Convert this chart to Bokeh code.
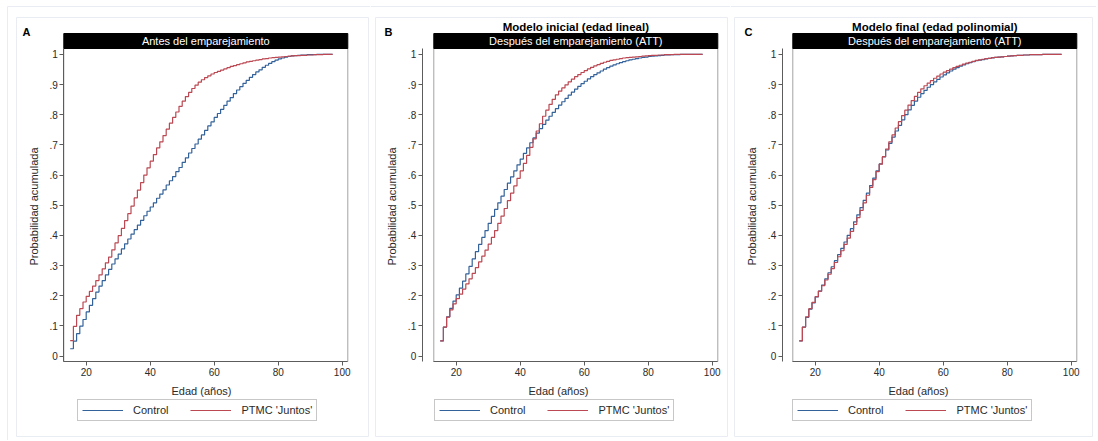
from bokeh.plotting import figure
from bokeh.layouts import row
from bokeh.models import (Range1d, FixedTicker, CustomJSTickFormatter, Label,
                          Legend, LegendItem)
from bokeh.embed import file_html
from bokeh.resources import INLINE

# ---------------- data ----------------
AGES = [15, 16, 17, 18, 19, 20, 21, 22, 23, 24, 25, 26, 27, 28, 29, 30, 31, 32,
        33, 34, 35, 36, 37, 38, 39, 40, 41, 42, 43, 44, 45, 46, 47, 48, 49, 50,
        51, 52, 53, 54, 55, 56, 57, 58, 59, 60, 61, 62, 63, 64, 65, 66, 67, 68,
        69, 70, 71, 72, 73, 74, 75, 76, 77, 78, 79, 80, 81, 82, 83, 84, 85, 86,
        87, 88, 89, 90, 91, 92, 93, 94, 95, 96, 97]

# Panel A: antes del emparejamiento
A_CONTROL = [0.024, 0.049, 0.074, 0.099, 0.121, 0.146, 0.168, 0.190, 0.212, 0.232,
             0.250, 0.269, 0.287, 0.305, 0.322, 0.338, 0.355, 0.372, 0.388, 0.404,
             0.419, 0.434, 0.450, 0.465, 0.480, 0.494, 0.508, 0.523, 0.537, 0.551,
             0.567, 0.581, 0.595, 0.611, 0.625, 0.642, 0.657, 0.673, 0.688, 0.703,
             0.719, 0.733, 0.748, 0.763, 0.776, 0.791, 0.804, 0.818, 0.831, 0.845,
             0.857, 0.870, 0.882, 0.893, 0.904, 0.914, 0.924, 0.933, 0.942, 0.949,
             0.957, 0.964, 0.970, 0.976, 0.981, 0.985, 0.988, 0.991, 0.993, 0.995,
             0.996, 0.997, 0.998, 0.998, 0.999, 0.999, 0.999, 1.0, 1.0, 1.0,
             1.0, 1.0, 1.0]
A_PTMC = [0.051, 0.098, 0.135, 0.157, 0.179, 0.198, 0.214, 0.232, 0.250, 0.269,
          0.289, 0.309, 0.328, 0.352, 0.375, 0.399, 0.423, 0.449, 0.472, 0.497,
          0.524, 0.550, 0.575, 0.600, 0.624, 0.646, 0.668, 0.690, 0.710, 0.731,
          0.752, 0.772, 0.791, 0.809, 0.828, 0.845, 0.860, 0.874, 0.887, 0.898,
          0.908, 0.916, 0.923, 0.929, 0.935, 0.940, 0.944, 0.948, 0.952, 0.956,
          0.960, 0.963, 0.966, 0.969, 0.972, 0.975, 0.977, 0.979, 0.981, 0.983,
          0.985, 0.986, 0.988, 0.989, 0.990, 0.991, 0.992, 0.993, 0.994, 0.995,
          0.996, 0.996, 0.997, 0.997, 0.998, 0.998, 0.999, 0.999, 0.999, 1.0,
          1.0, 1.0, 1.0]

# Panel B: modelo inicial (edad lineal), despues del emparejamiento
B_CONTROL = [0.050, 0.096, 0.130, 0.158, 0.182, 0.203, 0.225, 0.248, 0.272, 0.297,
             0.322, 0.346, 0.370, 0.393, 0.416, 0.440, 0.463, 0.486, 0.508, 0.530,
             0.552, 0.573, 0.594, 0.614, 0.634, 0.653, 0.672, 0.690, 0.707, 0.723,
             0.739, 0.754, 0.768, 0.782, 0.795, 0.808, 0.820, 0.832, 0.843, 0.854,
             0.865, 0.875, 0.885, 0.894, 0.903, 0.911, 0.919, 0.926, 0.933, 0.939,
             0.945, 0.951, 0.956, 0.961, 0.965, 0.969, 0.973, 0.976, 0.979, 0.982,
             0.984, 0.986, 0.988, 0.990, 0.991, 0.993, 0.994, 0.995, 0.996, 0.997,
             0.998, 0.998, 0.999, 0.999, 0.999, 1.0, 1.0, 1.0, 1.0, 1.0,
             1.0, 1.0, 1.0]
B_PTMC = [0.050, 0.096, 0.129, 0.153, 0.173, 0.190, 0.205, 0.222, 0.239, 0.256,
          0.274, 0.293, 0.312, 0.331, 0.351, 0.371, 0.393, 0.416, 0.440, 0.464,
          0.489, 0.515, 0.540, 0.564, 0.589, 0.614, 0.639, 0.665, 0.692, 0.720,
          0.746, 0.770, 0.795, 0.815, 0.834, 0.851, 0.866, 0.878, 0.889, 0.899,
          0.909, 0.918, 0.926, 0.933, 0.940, 0.946, 0.952, 0.957, 0.962, 0.966,
          0.970, 0.974, 0.977, 0.980, 0.982, 0.984, 0.986, 0.988, 0.989, 0.990,
          0.991, 0.992, 0.993, 0.994, 0.995, 0.996, 0.997, 0.997, 0.998, 0.998,
          0.999, 0.999, 0.999, 1.0, 1.0, 1.0, 1.0, 1.0, 1.0, 1.0,
          1.0, 1.0, 1.0]

# Panel C: modelo final (edad polinomial), despues del emparejamiento
C_CONTROL = [0.050, 0.096, 0.128, 0.155, 0.176, 0.196, 0.215, 0.235, 0.256, 0.276,
             0.296, 0.316, 0.336, 0.357, 0.378, 0.400, 0.422, 0.445, 0.468, 0.492,
             0.516, 0.540, 0.565, 0.590, 0.614, 0.637, 0.660, 0.683, 0.705, 0.726,
             0.746, 0.765, 0.783, 0.800, 0.816, 0.831, 0.845, 0.858, 0.870, 0.881,
             0.891, 0.900, 0.909, 0.917, 0.925, 0.932, 0.939, 0.945, 0.951, 0.956,
             0.961, 0.965, 0.969, 0.973, 0.976, 0.979, 0.981, 0.983, 0.985, 0.987,
             0.988, 0.990, 0.991, 0.992, 0.993, 0.994, 0.995, 0.996, 0.997, 0.997,
             0.998, 0.998, 0.999, 0.999, 0.999, 0.999, 1.0, 1.0, 1.0, 1.0,
             1.0, 1.0, 1.0]
C_PTMC = [0.050, 0.096, 0.130, 0.157, 0.178, 0.197, 0.215, 0.233, 0.252, 0.271,
          0.290, 0.310, 0.329, 0.349, 0.370, 0.391, 0.413, 0.436, 0.459, 0.483,
          0.508, 0.533, 0.559, 0.585, 0.611, 0.636, 0.661, 0.686, 0.710, 0.733,
          0.756, 0.777, 0.797, 0.815, 0.832, 0.847, 0.861, 0.874, 0.886, 0.896,
          0.905, 0.913, 0.921, 0.928, 0.935, 0.941, 0.946, 0.951, 0.956, 0.960,
          0.964, 0.968, 0.971, 0.974, 0.977, 0.980, 0.982, 0.984, 0.986, 0.987,
          0.989, 0.990, 0.991, 0.992, 0.993, 0.994, 0.995, 0.996, 0.997, 0.997,
          0.998, 0.998, 0.999, 0.999, 0.999, 0.999, 1.0, 1.0, 1.0, 1.0,
          1.0, 1.0, 1.0]

PANEL_LETTERS = ["A", "B", "C"]
PANEL_TITLES = ["", "Modelo inicial (edad lineal)", "Modelo final (edad polinomial)"]
PANEL_HEADERS = ["Antes del emparejamiento",
                 "Después del emparejamiento (ATT)",
                 "Después del emparejamiento (ATT)"]
SERIES_NAMES = ["Control", "PTMC 'Juntos'"]
X_TICKS = [20, 40, 60, 80, 100]
Y_TICKS = [0, 0.1, 0.2, 0.3, 0.4, 0.5, 0.6, 0.7, 0.8, 0.9, 1]
X_TITLE = "Edad (años)"
Y_TITLE = "Probabilidad acumulada"

# ---------------- styling / layout (page pixels) ----------------
FONT = "Liberation Sans"
BLUE = "#33629a"
RED = "#bb4852"
AXIS_COL = "#5c5c5c"
BOX_COL = "#a3a3a3"
FAINT = "#e9edf3"
TEXT_COL = "#2a2a2a"

HEIGHT = 440
PX_X = 3.2            # pixels per year
PX_Y = 301.6          # pixels per unit of probability
Y_ZERO_PX = 355.5     # page y of probability 0
XMIN, XMAX = 13.0, 101.75          # plot region in years
REGION_TOP_PX, REGION_BOT_PX = 48, 361
HEADER_TOP_PX = 33

PANELS = [
    dict(left=0, width=370, origin=85.7, axis=63.3, letter=26, ytitle=33,
         xtitle=201, leg_left=77, box=(16, 368)),
    dict(left=370, width=360, origin=455.7, axis=421.7, letter=388, ytitle=391.7,
         xtitle=558, leg_left=434, box=(375, 727)),
    dict(left=730, width=366, origin=814.7, axis=781.7, letter=748, ytitle=751.7,
         xtitle=918, leg_left=792, box=(734, 1092)),
]

fmt = CustomJSTickFormatter(code="""
var s = (Math.round(tick*10)/10).toString();
return s.replace(/^0\\./, '.');
""")


def fy(py):
    return (Y_ZERO_PX - py) / PX_Y


def make_panel(i, ctrl, ptmc):
    P = PANELS[i]

    def fx(px):
        return 20 + (px - P["origin"]) / PX_X

    p = figure(width=P["width"], height=HEIGHT,
               x_range=Range1d(fx(P["left"]), fx(P["left"] + P["width"])),
               y_range=Range1d(fy(HEIGHT), fy(0)),
               output_backend="svg", toolbar_location=None, title=None,
               min_border_left=0, min_border_right=0,
               min_border_top=0, min_border_bottom=0)
    p.outline_line_color = None
    p.grid.visible = False
    p.background_fill_color = "white"
    p.border_fill_color = "white"

    y_bot, y_top, y_head = fy(REGION_BOT_PX), fy(REGION_TOP_PX), fy(HEADER_TOP_PX)

    # faint panel frame (and outer frame)
    bl, br = P["box"]
    p.quad(left=[fx(bl)], right=[fx(br)], bottom=[fy(436)], top=[fy(17)],
           fill_color=None, line_color=FAINT, line_width=1)
    p.segment(x0=[fx(max(P["left"], 7))], x1=[fx(P["left"] + P["width"])],
              y0=[fy(6)], y1=[fy(6)], line_color=FAINT, line_width=1)
    if i == 0:
        p.segment(x0=[fx(7)], x1=[fx(7)], y0=[fy(6)], y1=[fy(HEIGHT)],
                  line_color=FAINT, line_width=1)

    # axes fixed at the plot region edge
    xa = p.xaxis[0]
    xa.fixed_location = y_bot
    xa.ticker = FixedTicker(ticks=X_TICKS)
    xa.bounds = (XMIN, XMAX)
    ya = p.yaxis[0]
    ya.fixed_location = fx(P["axis"])
    ya.ticker = FixedTicker(ticks=Y_TICKS)
    ya.formatter = fmt
    ya.bounds = (y_bot, y_top)
    for ax in (xa, ya):
        ax.axis_line_color = AXIS_COL
        ax.axis_line_width = 1
        ax.major_tick_line_color = AXIS_COL
        ax.major_tick_out = 4
        ax.major_tick_in = 0
        ax.minor_tick_line_color = None
        ax.major_label_standoff = 2
        ax.major_label_text_font = FONT
        ax.major_label_text_font_size = "10px"
        ax.major_label_text_color = TEXT_COL

    # plot-region box
    p.quad(left=[XMIN], right=[XMAX], bottom=[y_bot], top=[y_top],
           fill_color=None, line_color=BOX_COL, line_width=1)

    r_ctrl = p.step(AGES, ctrl, mode="after", line_color=BLUE, line_width=1.2)
    r_ptmc = p.step(AGES, ptmc, mode="after", line_color=RED, line_width=1.2)

    # black strip header
    p.quad(left=[XMIN], right=[XMAX], bottom=[y_top], top=[y_head],
           fill_color="black", line_color="black")
    p.add_layout(Label(x=(XMIN + XMAX) / 2, y=(y_top + y_head) / 2,
                       text=PANEL_HEADERS[i], text_color="white",
                       text_font=FONT, text_font_size="11px",
                       text_align="center", text_baseline="middle"))
    if PANEL_TITLES[i]:
        p.add_layout(Label(x=(XMIN + XMAX) / 2, y=fy(26.7),
                           text=PANEL_TITLES[i], text_color="black",
                           text_font=FONT, text_font_size="11.5px",
                           text_font_style="bold",
                           text_align="center", text_baseline="middle"))
    p.add_layout(Label(x=fx(P["letter"]), y=fy(31.5),
                       text=PANEL_LETTERS[i], text_color="black",
                       text_font=FONT, text_font_size="11px",
                       text_font_style="bold",
                       text_align="center", text_baseline="middle"))
    # axis titles
    p.add_layout(Label(x=fx(P["ytitle"]), y=fy(206),
                       text=Y_TITLE, angle=1.5707963, text_color=TEXT_COL,
                       text_font=FONT, text_font_size="11px",
                       text_align="center", text_baseline="middle"))
    p.add_layout(Label(x=fx(P["xtitle"]), y=fy(390),
                       text=X_TITLE, text_color=TEXT_COL,
                       text_font=FONT, text_font_size="11px",
                       text_align="center", text_baseline="middle"))

    legend = Legend(items=[LegendItem(label=SERIES_NAMES[0], renderers=[r_ctrl]),
                           LegendItem(label=SERIES_NAMES[1], renderers=[r_ptmc])],
                    orientation="horizontal",
                    location=(P["leg_left"] - P["left"], HEIGHT - 421))
    legend.border_line_color = "#8f8f8f"
    legend.border_line_width = 1
    legend.background_fill_color = "white"
    legend.background_fill_alpha = 1
    legend.padding = 4
    legend.margin = 0
    legend.spacing = 22
    legend.glyph_width = 41
    legend.glyph_height = 12
    legend.label_height = 12
    legend.label_standoff = 10
    legend.label_text_font = FONT
    legend.label_text_font_size = "11px"
    legend.label_text_color = TEXT_COL
    p.add_layout(legend)
    return p


panels = [make_panel(0, A_CONTROL, A_PTMC),
          make_panel(1, B_CONTROL, B_PTMC),
          make_panel(2, C_CONTROL, C_PTMC)]

layout = row(*panels)
open("out.html", "w").write(file_html(layout, INLINE))
